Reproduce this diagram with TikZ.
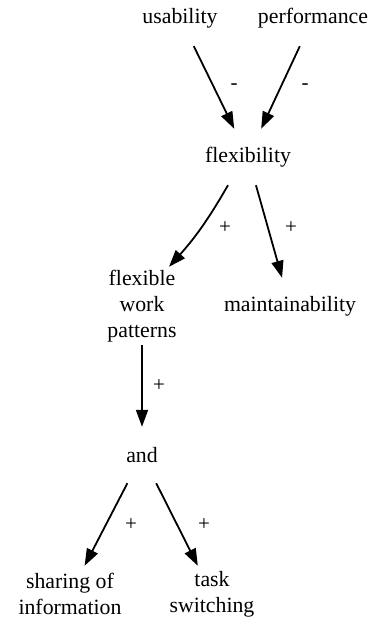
\documentclass[tikz,border=0pt]{standalone}
\usepackage{fontspec}
\setmainfont{Liberation Serif}
\usetikzlibrary{arrows.meta}
\begin{document}
\begin{tikzpicture}[x=1pt,y=1pt,
  concept/.style={font=\fontsize{21.8}{26}\selectfont, align=center, minimum height=56pt, minimum width=84pt, inner xsep=4pt, inner ysep=3pt},
  lbl/.style={font=\fontsize{21}{24}\selectfont, inner sep=0pt},
  edge/.style={line width=1.8pt, -{Triangle[length=17pt,width=12pt]}}]
\useasboundingbox (0,0) rectangle (380,-620);
\node[concept] (usab) at (180,-18) {usability};
\node[concept] (perf) at (313,-18) {performance};
\node[concept] (flex) at (248,-157) {flexibility};
\node[concept] (fwp) at (142,-306) {flexible\\work\\patterns};
\node[concept] (main) at (290,-306) {maintainability};
\node[concept] (and) at (142,-455) {and};
\node[concept] (share) at (70,-594) {sharing of\\information};
\node[concept] (task) at (212,-594) {task\\switching};
\draw[edge] (usab) -- (flex);
\draw[edge] (perf) -- (flex);
\draw[edge] ([xshift=-20pt]flex.south) to[bend left=6] ([xshift=27pt]fwp.north);
\draw[edge] (flex) -- (main);
\draw[edge] (fwp) -- (and);
\draw[edge] (and) -- (share);
\draw[edge] (and) -- (task);
\node[lbl] (l1) at (234,-87) {-};
\node[lbl] (l2) at (305,-87) {-};
\node[lbl] (l3) at (225,-228) {+};
\node[lbl] (l4) at (291,-228) {+};
\node[lbl] (l5) at (159,-386) {+};
\node[lbl] (l6) at (131,-525) {+};
\node[lbl] (l7) at (204,-525) {+};
\end{tikzpicture}
\end{document}
